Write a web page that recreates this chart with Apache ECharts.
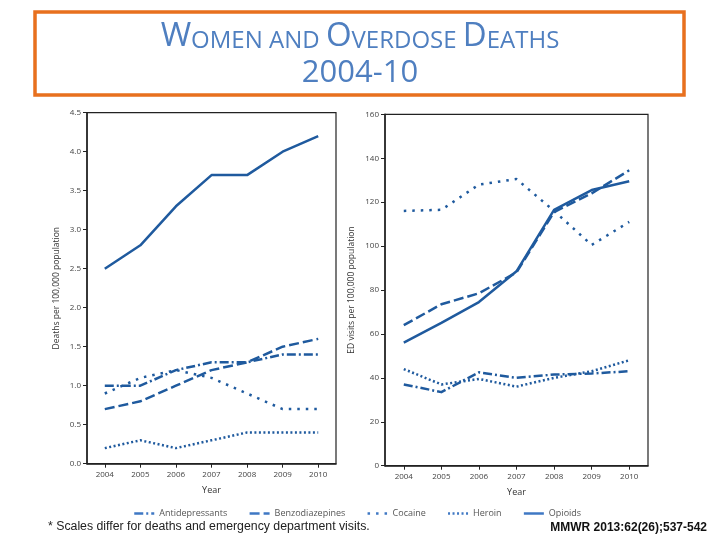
<!DOCTYPE html>
<html><head><meta charset="utf-8">
<script src="https://cdn.jsdelivr.net/npm/echarts@6/dist/echarts.min.js"></script>
<style>html,body{margin:0;padding:0;background:#fff}#c{width:720px;height:540px}</style>
</head><body><div id="c"></div>
<script>
const years = ['2004','2005','2006','2007','2008','2009','2010'];
const seriesNames = ['Antidepressants','Benzodiazepines','Cocaine','Heroin','Opioids'];
// Deaths per 100,000 population
const deathsAntidep  = [1.0, 1.0, 1.2, 1.3, 1.3, 1.4, 1.4];
const deathsBenzo    = [0.7, 0.8, 1.0, 1.2, 1.3, 1.5, 1.6];
const deathsCocaine  = [0.9, 1.1, 1.2, 1.1, 0.9, 0.7, 0.7];
const deathsHeroin   = [0.2, 0.3, 0.2, 0.3, 0.4, 0.4, 0.4];
const deathsOpioids  = [2.5, 2.8, 3.3, 3.7, 3.7, 4.0, 4.2];
// ED visits per 100,000 population
const edAntidep  = [37, 33.5, 42.5, 40, 41.5, 42, 43];
const edBenzo    = [64, 73.5, 78.5, 88, 115.5, 124, 134.5];
const edCocaine  = [116, 116.5, 128, 130.5, 116, 100.5, 111];
const edHeroin   = [44, 37, 39.5, 36, 40, 43, 48];
const edOpioids  = [56, 65, 74.5, 88.5, 116.5, 125.5, 129.5];

const deathsData = [deathsAntidep, deathsBenzo, deathsCocaine, deathsHeroin, deathsOpioids];
const edData = [edAntidep, edBenzo, edCocaine, edHeroin, edOpioids];

const lineColor = '#1f5a9e';
const dashes = [[9,3,2,3], [10,4], [2.5,6], [2,2.5], 'solid'];

const chart = echarts.init(document.getElementById('c'));
const axisFont = {fontFamily:'Open Sans', fontSize:8, color:'#444'};

function mkSeries(dataArr, idx){
  return dataArr.map((d,i)=>({
    name: seriesNames[i], type:'line', xAxisIndex: idx, yAxisIndex: idx,
    data: d, symbol:'none', showSymbol:false, smooth: false,
    lineStyle:{color: lineColor, width: 2.5, type: dashes[i], cap:'butt', join:'round'},
    itemStyle:{color: lineColor}, z: 3
  }));
}

const xCommon = {
  type:'category', data: years, boundaryGap: true,
  axisLine:{show:true, lineStyle:{color:'#222', width:1.5}},
  axisTick:{show:true, alignWithLabel:true, length:4, lineStyle:{color:'#222'}},
  axisLabel: Object.assign({margin:7}, axisFont),
  name:'Year', nameLocation:'middle', nameGap:22,
  nameTextStyle:{fontFamily:'Open Sans', fontSize:9, color:'#333'}
};

const option = {
  animation:false,
  backgroundColor:'#fff',
  grid:[
    {left:87, right:384, top:112.7, bottom:76.3, show:true, borderColor:'#222', borderWidth:1.2},
    {left:385, right:72, top:114.3, bottom:74.3, show:true, borderColor:'#222', borderWidth:1.2}
  ],
  xAxis:[ Object.assign({gridIndex:0}, xCommon), Object.assign({gridIndex:1}, xCommon) ],
  yAxis:[
    {gridIndex:0, type:'value', min:0, max:4.5, interval:0.5,
     axisLine:{show:true, lineStyle:{color:'#222', width:1.5}},
     axisTick:{show:true, length:4, lineStyle:{color:'#222'}},
     splitLine:{show:false},
     axisLabel: Object.assign({margin:6, formatter: v => v.toFixed(1)}, axisFont),
     name:'Deaths per 100,000 population', nameLocation:'middle', nameGap:26, nameRotate:90,
     nameTextStyle:{fontFamily:'Open Sans', fontSize:8.5, color:'#333'}},
    {gridIndex:1, type:'value', min:0, max:160, interval:20,
     axisLine:{show:true, lineStyle:{color:'#222', width:1.5}},
     axisTick:{show:true, length:4, lineStyle:{color:'#222'}},
     splitLine:{show:false},
     axisLabel: Object.assign({margin:6}, axisFont),
     name:'ED visits per 100,000 population', nameLocation:'middle', nameGap:29, nameRotate:90,
     nameTextStyle:{fontFamily:'Open Sans', fontSize:8.5, color:'#333'}}
  ],
  legend:{
    data: seriesNames, left:128, top:504, itemWidth:20, itemHeight:8, itemGap:21,
    textStyle:{fontFamily:'Open Sans', fontSize:9, color:'#555'},
    itemStyle:{opacity:0},
    lineStyle:{color:'#3f78c4', width:2.5}
  },
  series: mkSeries(deathsData,0).concat(mkSeries(edData,1)),
  graphic:[
    {type:'rect', shape:{x:35, y:12, width:649, height:83},
     style:{fill:'none', stroke:'#e8701e', lineWidth:3.5}, z:10},
    {type:'text', x:360, y:20, z:11,
     style:{
       text:'{b|W}{s|OMEN AND }{b|O}{s|VERDOSE }{b|D}{s|EATHS}',
       align:'center', verticalAlign:'top',
       rich:{
         b:{fontFamily:'Open Sans', fontSize:33, fill:'#4f7fc0', verticalAlign:'bottom'},
         s:{fontFamily:'Open Sans', fontSize:24, fill:'#4f7fc0', verticalAlign:'bottom'}
       }
     }},
    {type:'text', x:360, y:58, z:11,
     style:{text:'2004-10', align:'center', verticalAlign:'top',
       font:'31px "Open Sans"', fill:'#4f7fc0'}},
    {type:'text', x:48, y:527, z:11,
     style:{text:'* Scales differ for deaths and emergency department visits.',
       font:'12.3px "Liberation Sans"', fill:'#222', verticalAlign:'middle'}},
    {type:'text', x:707, y:527.5, z:11,
     style:{text:'MMWR 2013:62(26);537-542', align:'right', verticalAlign:'middle',
       font:'bold 12px "Liberation Sans"', fill:'#111'}}
  ]
};
chart.setOption(option);
</script></body></html>
